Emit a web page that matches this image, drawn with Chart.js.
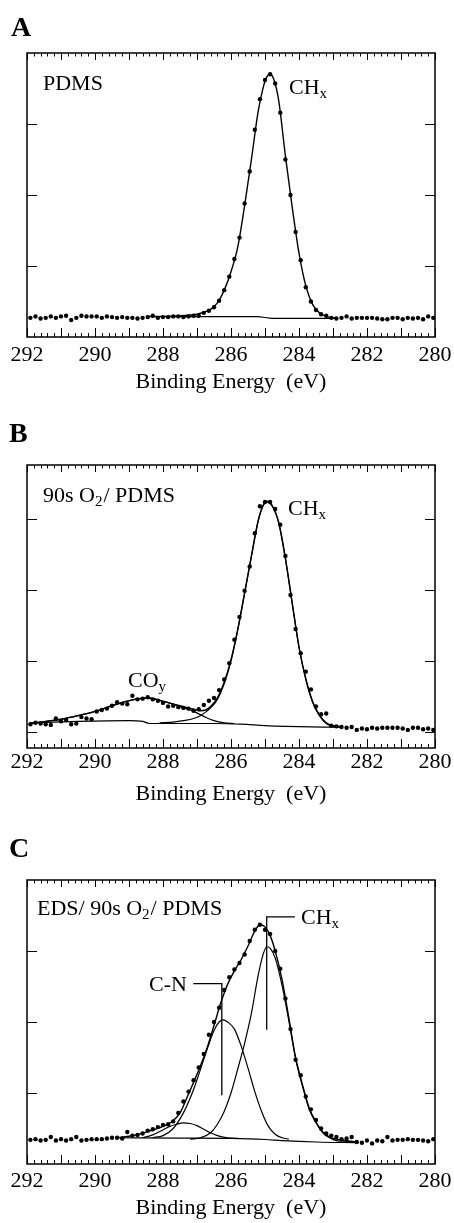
<!DOCTYPE html>
<html><head><meta charset="utf-8">
<script src="https://cdn.jsdelivr.net/npm/chart.js@4.4.1/dist/chart.umd.min.js"></script>
<style>
html,body{margin:0;padding:0;background:#fff;width:454px;height:1223px;overflow:hidden;}
canvas{position:absolute;left:0;}
</style></head><body>
<canvas id="cA" width="454" height="400" style="top:0px"></canvas>
<canvas id="cB" width="454" height="410" style="top:400px"></canvas>
<canvas id="cC" width="454" height="413" style="top:810px"></canvas>
<script>
// ---------- shared axis data ----------
const xTickValues = [292, 290, 288, 286, 284, 282, 280];
const yTicksA = [1, 2, 3];
const yTicksB = [0, 1, 2, 3];
const yTicksC = [1, 2, 3];

// binding energy of each measured point (eV)
const energy = [
 291.9, 291.75, 291.6, 291.45, 291.3, 291.15, 291.0, 290.85, 290.7, 290.55,
 290.4, 290.25, 290.1, 289.95, 289.8, 289.65, 289.5, 289.35, 289.2, 289.05,
 288.9, 288.75, 288.6, 288.45, 288.3, 288.15, 288.0, 287.85, 287.7, 287.55,
 287.4, 287.25, 287.1, 286.95, 286.8, 286.65, 286.5, 286.35, 286.2, 286.05,
 285.9, 285.75, 285.6, 285.45, 285.3, 285.15, 285.0, 284.85, 284.7, 284.55,
 284.4, 284.25, 284.1, 283.95, 283.8, 283.65, 283.5, 283.35, 283.2, 283.05,
 282.9, 282.75, 282.6, 282.45, 282.3, 282.15, 282.0, 281.85, 281.7, 281.55,
 281.4, 281.25, 281.1, 280.95, 280.8, 280.65, 280.5, 280.35, 280.2, 280.05];

// ---------- panel A : PDMS ----------
const countsA = [
 0.27, 0.29, 0.26, 0.27, 0.29, 0.27, 0.29, 0.30, 0.24, 0.27,
 0.30, 0.29, 0.29, 0.29, 0.27, 0.29, 0.28, 0.27, 0.28, 0.27,
 0.27, 0.26, 0.27, 0.28, 0.30, 0.27, 0.28, 0.28, 0.29, 0.29,
 0.28, 0.29, 0.30, 0.30, 0.34, 0.37, 0.42, 0.51, 0.66, 0.85,
 1.10, 1.40, 1.88, 2.33, 2.92, 3.35, 3.62, 3.70, 3.57, 3.16,
 2.50, 2.00, 1.48, 1.08, 0.70, 0.50, 0.38, 0.32, 0.30, 0.27,
 0.26, 0.27, 0.29, 0.26, 0.27, 0.27, 0.27, 0.27, 0.26, 0.25,
 0.25, 0.27, 0.27, 0.25, 0.27, 0.26, 0.27, 0.25, 0.29, 0.27];
const fitAx = [288.5, 288.0, 287.5, 287.2, 287.0, 286.8, 286.6, 286.4, 286.2, 286.0, 285.8, 285.6, 285.4, 285.2, 285.05, 284.95, 284.85, 284.75, 284.6, 284.4, 284.2, 284.0, 283.8, 283.6, 283.4, 283.2, 283.0, 282.9];
const fitAy = [0.29, 0.29, 0.30, 0.31, 0.32, 0.35, 0.39, 0.48, 0.66, 0.92, 1.27, 1.85, 2.50, 3.18, 3.52, 3.66, 3.70, 3.64, 3.34, 2.55, 1.83, 1.18, 0.72, 0.46, 0.34, 0.29, 0.27, 0.265];
const bgAx = [288.5, 285.2, 285.0, 284.8, 282.9];
const bgAy = [0.286, 0.286, 0.275, 0.263, 0.263];

// ---------- panel B : 90s O2/PDMS ----------
const countsB = [
 0.11, 0.13, 0.12, 0.11, 0.10, 0.19, 0.15, 0.17, 0.11, 0.12,
 0.21, 0.19, 0.18, 0.29, 0.31, 0.33, 0.37, 0.42, 0.40, 0.39,
 0.51, 0.46, 0.47, 0.49, 0.46, 0.44, 0.41, 0.36, 0.37, 0.35,
 0.34, 0.33, 0.30, 0.32, 0.38, 0.44, 0.48, 0.59, 0.74, 0.97,
 1.30, 1.62, 1.99, 2.33, 2.80, 3.18, 3.24, 3.24, 3.14, 2.92,
 2.48, 1.93, 1.45, 1.11, 0.85, 0.60, 0.36, 0.25, 0.26, 0.09,
 0.08, 0.07, 0.06, 0.07, 0.03, 0.05, 0.04, 0.06, 0.05, 0.06,
 0.06, 0.06, 0.06, 0.05, 0.03, 0.06, 0.06, 0.04, 0.05, 0.03];
const fitBx = [291.9, 291.0, 290.5, 290.0, 289.5, 289.0, 288.7, 288.45, 288.2, 287.9, 287.5, 287.1, 286.9, 286.75, 286.6, 286.4, 286.2, 286.0, 285.8, 285.6, 285.4, 285.2, 285.05, 284.95, 284.8, 284.6, 284.4, 284.2, 284.0, 283.8, 283.6, 283.4, 283.2, 283.0, 282.8];
const fitBy = [0.12, 0.18, 0.23, 0.29, 0.37, 0.44, 0.47, 0.48, 0.46, 0.42, 0.37, 0.32, 0.30, 0.31, 0.36, 0.48, 0.70, 1.02, 1.45, 1.96, 2.48, 2.98, 3.20, 3.25, 3.20, 2.96, 2.45, 1.82, 1.20, 0.75, 0.43, 0.24, 0.13, 0.09, 0.08];
const coBx = [291.9, 291.0, 290.5, 290.0, 289.5, 289.0, 288.7, 288.45, 288.2, 287.9, 287.5, 287.1, 286.8, 286.5, 286.2, 285.9];
const coBy = [0.12, 0.18, 0.23, 0.29, 0.37, 0.44, 0.47, 0.48, 0.46, 0.42, 0.36, 0.29, 0.22, 0.16, 0.13, 0.12];
const chBx = [288.1, 287.7, 287.4, 287.1, 286.9, 286.75, 286.6, 286.4, 286.2, 286.0, 285.8, 285.6, 285.4, 285.2, 285.05, 284.95, 284.8, 284.6, 284.4, 284.2, 284.0, 283.8, 283.6, 283.4, 283.2, 283.0, 282.8];
const chBy = [0.13, 0.14, 0.16, 0.19, 0.23, 0.28, 0.34, 0.46, 0.68, 1.00, 1.44, 1.95, 2.47, 2.97, 3.19, 3.24, 3.19, 2.95, 2.44, 1.81, 1.19, 0.74, 0.42, 0.23, 0.12, 0.08, 0.07];
const bgBx = [291.9, 290.5, 289.0, 288.6, 288.4, 287.5, 286.5, 285.7, 285.0, 284.4, 283.0, 282.8];
const bgBy = [0.13, 0.15, 0.16, 0.15, 0.12, 0.12, 0.12, 0.11, 0.09, 0.08, 0.07, 0.07];

// ---------- panel C : EDS/90s O2/PDMS ----------
const countsC = [
 0.34, 0.35, 0.33, 0.34, 0.38, 0.33, 0.35, 0.33, 0.35, 0.38,
 0.33, 0.34, 0.35, 0.35, 0.35, 0.36, 0.37, 0.37, 0.36, 0.45,
 0.40, 0.41, 0.43, 0.47, 0.49, 0.52, 0.55, 0.56, 0.60, 0.72,
 0.88, 1.02, 1.18, 1.36, 1.55, 1.82, 2.00, 2.20, 2.45, 2.63,
 2.74, 2.83, 2.95, 3.14, 3.30, 3.37, 3.30, 3.24, 3.00, 2.75,
 2.33, 1.90, 1.47, 1.25, 0.95, 0.77, 0.62, 0.50, 0.43, 0.40,
 0.38, 0.35, 0.36, 0.38, 0.31, 0.30, 0.33, 0.29, 0.33, 0.32,
 0.38, 0.33, 0.34, 0.34, 0.35, 0.34, 0.34, 0.33, 0.32, 0.35];
const fitCx = [289.4, 289.0, 288.5, 288.0, 287.7, 287.5, 287.3, 287.1, 286.9, 286.7, 286.5, 286.3, 286.1, 285.9, 285.7, 285.5, 285.3, 285.15, 285.0, 284.85, 284.7, 284.5, 284.3, 284.1, 283.9, 283.7, 283.5, 283.3, 283.1, 282.9, 282.6, 282.3];
const fitCy = [0.37, 0.39, 0.45, 0.53, 0.61, 0.72, 0.93, 1.15, 1.38, 1.64, 1.95, 2.27, 2.53, 2.72, 2.88, 3.07, 3.28, 3.37, 3.34, 3.22, 3.00, 2.60, 2.06, 1.50, 1.12, 0.79, 0.59, 0.45, 0.38, 0.35, 0.33, 0.31];
const cnCx = [288.3, 288.0, 287.7, 287.4, 287.1, 286.9, 286.7, 286.5, 286.35, 286.23, 286.1, 285.9, 285.7, 285.5, 285.3, 285.1, 284.9, 284.7, 284.5, 284.3];
const cnCy = [0.37, 0.40, 0.50, 0.72, 1.05, 1.33, 1.62, 1.88, 2.00, 2.03, 2.00, 1.90, 1.66, 1.35, 1.02, 0.74, 0.53, 0.42, 0.37, 0.35];
const chCx = [287.2, 286.9, 286.6, 286.4, 286.2, 286.0, 285.8, 285.6, 285.4, 285.2, 285.05, 284.95, 284.85, 284.7, 284.5, 284.3, 284.1, 283.9, 283.7, 283.5, 283.3, 283.1, 282.9, 282.6, 282.3];
const chCy = [0.35, 0.37, 0.44, 0.56, 0.74, 1.00, 1.34, 1.70, 2.12, 2.66, 2.96, 3.06, 3.04, 2.90, 2.52, 2.02, 1.48, 1.10, 0.77, 0.58, 0.44, 0.37, 0.33, 0.32, 0.31];
const coCx = [288.6, 288.3, 288.0, 287.8, 287.6, 287.4, 287.2, 287.0, 286.8, 286.6, 286.4, 286.1, 285.8];
const coCy = [0.37, 0.41, 0.48, 0.53, 0.56, 0.58, 0.57, 0.54, 0.49, 0.44, 0.40, 0.37, 0.36];
const bgCx = [289.4, 287.5, 286.0, 285.0, 284.5, 283.5, 282.3];
const bgCy = [0.37, 0.365, 0.36, 0.345, 0.33, 0.31, 0.30];
// label leader lines in panel C
const leadCHx = [284.12, 284.95, 284.95];
const leadCHy = [3.48, 3.48, 1.89];
const leadCNx = [287.11, 286.27, 286.27];
const leadCNy = [2.54, 2.54, 0.97];

// ---------- helpers ----------
const SERIF = "'Liberation Serif', 'Times New Roman', serif";
const pts = (xs, ys) => xs.map((x, i) => ({x: x, y: ys[i]}));
const dots = ys => ({type: 'scatter', data: pts(energy, ys), showLine: false,
  pointRadius: 2.2, pointBackgroundColor: '#000', pointBorderWidth: 0, pointHoverRadius: 2.2});
const curve = (xs, ys, w) => ({type: 'scatter', data: pts(xs, ys), showLine: true,
  borderColor: '#000', borderWidth: w || 1, pointRadius: 0, cubicInterpolationMode: 'monotone', fill: false});
const straight = (xs, ys, w) => ({type: 'scatter', data: pts(xs, ys), showLine: true,
  borderColor: '#000', borderWidth: w || 1, pointRadius: 0, tension: 0, fill: false});

const framePlugin = {
  id: 'xpsFrame',
  afterDraw(chart, args, opts) {
    const ctx = chart.ctx, a = chart.chartArea, xs = chart.scales.x, ys = chart.scales.y;
    ctx.save();
    ctx.strokeStyle = '#000';
    ctx.lineWidth = 1;
    ctx.beginPath();
    for (let i = 0; i <= 60; i++) {
      const v = 280 + i * 0.2;
      const px = Math.round(xs.getPixelForValue(v)) + 0.5;
      const major = i % 5 === 0;
      ctx.moveTo(px, a.bottom); ctx.lineTo(px, a.bottom - (major ? 9 : 4));
      ctx.moveTo(px, a.top); ctx.lineTo(px, a.top + (major ? 7 : 3.5));
    }
    (opts.yTicks || []).forEach(v => {
      const py = Math.round(ys.getPixelForValue(v)) + 0.5;
      ctx.moveTo(a.left, py); ctx.lineTo(a.left + 10, py);
      ctx.moveTo(a.right, py); ctx.lineTo(a.right - 10, py);
    });
    ctx.stroke();
    ctx.lineWidth = 1.5;
    ctx.strokeRect(a.left, a.top, a.right - a.left, a.bottom - a.top);
    // text labels
    ctx.fillStyle = '#000';
    ctx.textBaseline = 'alphabetic';
    ctx.textAlign = 'left';
    (opts.texts || []).forEach(t => {
      const size = t.size || 22;
      const fontFor = kind => kind === 'b' ? `bold ${size}px ${SERIF}` :
                              kind === 's' ? `${Math.round(size * 0.66)}px ${SERIF}` : `${size}px ${SERIF}`;
      let total = 0;
      t.parts.forEach(p => { ctx.font = fontFor(p[1]); total += ctx.measureText(p[0]).width; });
      let x = t.align === 'right' ? t.x - total : t.x;
      t.parts.forEach(p => {
        ctx.font = fontFor(p[1]);
        const dy = p[1] === 's' ? 3.5 : 0;
        ctx.fillText(p[0], x, t.y + dy);
        x += ctx.measureText(p[0]).width + (p[1] === 's' ? 1 : 0);
      });
    });
    ctx.restore();
  }
};

function makeChart(id, cfg) {
  return new Chart(document.getElementById(id), {
    type: 'scatter',
    data: {datasets: cfg.datasets},
    plugins: [framePlugin],
    options: {
      responsive: false, animation: false, devicePixelRatio: 1, events: [],
      layout: {padding: {left: 27, right: 19, top: cfg.top, bottom: 0}},
      plugins: {legend: {display: false}, tooltip: {enabled: false},
                xpsFrame: {yTicks: cfg.yTicks, texts: cfg.texts}},
      scales: {
        x: {type: 'linear', min: 280, max: 292, reverse: true, position: 'bottom',
            grid: {display: false, drawTicks: false}, border: {display: false},
            afterBuildTicks: s => { s.ticks = xTickValues.slice().sort((p, q) => p - q).map(v => ({value: v})); },
            afterFit: s => { s.height = cfg.axisH; },
            ticks: {font: {family: SERIF, size: 22}, color: '#000', padding: cfg.tickPad,
                    maxRotation: 0, autoSkip: false, callback: v => String(v)},
            title: {display: true, text: 'Binding Energy  (eV)', color: '#000',
                    font: {family: SERIF, size: 22}, padding: {top: 0, bottom: cfg.titlePad}}},
        y: {type: 'linear', min: cfg.ymin, max: cfg.ymax, display: false}
      }
    }
  });
}

makeChart('cA', {
  top: 53, axisH: 63, tickPad: 5, titlePad: 5, ymin: 0, ymax: 4, yTicks: yTicksA,
  datasets: [dots(countsA), curve(fitAx, fitAy, 1.4), straight(bgAx, bgAy, 1.2)],
  texts: [
    {x: 11, y: 36, size: 28, parts: [['A', 'b']]},
    {x: 43, y: 90, parts: [['PDMS', 'n']]},
    {x: 289, y: 94, parts: [['CH', 'n'], ['x', 's']]}
  ]
});
makeChart('cB', {
  top: 65, axisH: 62, tickPad: 1, titlePad: 3, ymin: -0.225, ymax: 3.76, yTicks: yTicksB,
  datasets: [dots(countsB), curve(fitBx, fitBy, 1.4), curve(coBx, coBy, 1.2), curve(chBx, chBy, 1.2), curve(bgBx, bgBy, 1.2)],
  texts: [
    {x: 9, y: 42, size: 28, parts: [['B', 'b']]},
    {x: 43, y: 102, parts: [['90s O', 'n'], ['2', 's'], ['/ PDMS', 'n']]},
    {x: 288, y: 115, parts: [['CH', 'n'], ['x', 's']]},
    {x: 128, y: 287, parts: [['CO', 'n'], ['y', 's']]}
  ]
});
makeChart('cC', {
  top: 70, axisH: 59, tickPad: 4, titlePad: 2, ymin: 0, ymax: 4, yTicks: yTicksC,
  datasets: [dots(countsC), curve(fitCx, fitCy, 1.4), curve(cnCx, cnCy, 1.2), curve(chCx, chCy, 1.2),
             curve(coCx, coCy, 1.2), curve(bgCx, bgCy, 1.2),
             straight(leadCHx, leadCHy, 1.3), straight(leadCNx, leadCNy, 1.3)],
  texts: [
    {x: 9, y: 47, size: 28, parts: [['C', 'b']]},
    {x: 37, y: 105, parts: [['EDS/ 90s O', 'n'], ['2', 's'], ['/ PDMS', 'n']]},
    {x: 301, y: 114, parts: [['CH', 'n'], ['x', 's']]},
    {x: 187, y: 181, align: 'right', parts: [['C-N', 'n']]}
  ]
});
</script>
</body></html>
